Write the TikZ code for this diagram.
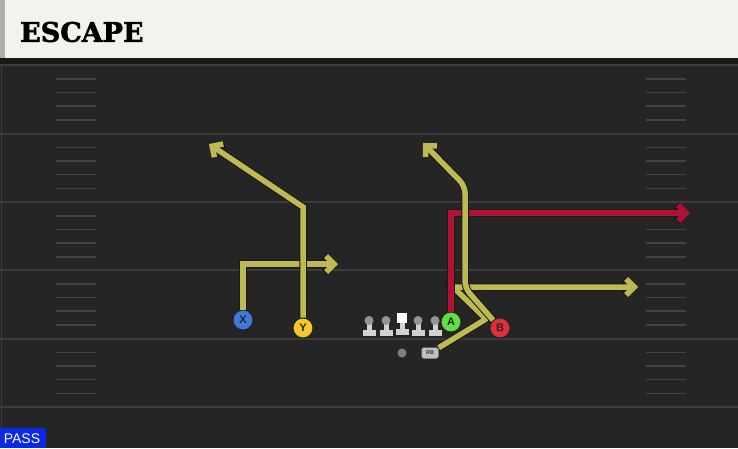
\documentclass[tikz,border=0pt]{standalone}
\usepackage{fontspec}
\usepackage{tikz}
\usetikzlibrary{arrows.meta}
\newfontfamily\titlefont{DejaVu Serif}[BoldFeatures={FakeBold=2}]
\newfontfamily\labelfont{Liberation Sans}

\definecolor{fieldbg}{RGB}{37,37,37}
\definecolor{fieldline}{RGB}{60,60,60}
\definecolor{hashline}{RGB}{66,66,66}
\definecolor{cream}{RGB}{244,242,236}
\definecolor{routeyellow}{RGB}{190,186,82}
\definecolor{routered}{RGB}{176,18,50}
\definecolor{btnx}{RGB}{62,122,220}
\definecolor{btny}{RGB}{246,200,40}
\definecolor{btna}{RGB}{100,222,70}
\definecolor{btnb}{RGB}{226,44,56}
\definecolor{passblue}{RGB}{10,40,230}

\tikzset{
  route/.style={line width=5.5pt, draw=routeyellow, line join=miter,
    -{Straight Barb[length=8pt,width=16pt]},
    preaction={draw=black!90, line width=7.5pt}},
  hot/.style={route, draw=routered},
  player/.style={circle, minimum size=20pt, inner sep=0pt, draw=black!85, line width=1pt,
    font=\labelfont\bfseries\fontsize{11}{11}\selectfont, text=black!85},
}

\begin{document}
\begin{tikzpicture}[x=1pt,y=-1pt]
\useasboundingbox (0,0) rectangle (738,448);
% field
\fill[fieldbg] (0,58) rectangle (738,448);
\fill[black!90] (0,58) rectangle (738,64);
\draw[fieldline, line width=1.5pt] (1.5,64) -- (1.5,448);
\foreach \ly in {65, 133.5, 202, 270, 338.5, 407}{
    \draw[fieldline, line width=2pt] (0,\ly) -- (738,\ly);
}
\foreach \ly in {65, 133.5, 202, 270, 338.5}{
    \foreach \dy in {14, 27.5, 41, 55}{
        \draw[hashline, line width=1.5pt] (56,\ly+\dy) -- (96,\ly+\dy);
        \draw[hashline, line width=1.5pt] (646,\ly+\dy) -- (686,\ly+\dy);
    }
}

% header
\fill[cream] (0,0) rectangle (738,58);
\fill[black!32] (0,0) rectangle (5,58);
\node[anchor=west, inner sep=0pt] (title) at (20,32)
    {\titlefont\bfseries\fontsize{27}{27}\selectfont ESCAPE};

% line
\foreach \lx in {369, 386, 418, 435}{
    \fill[black!18] (\lx-6.5,330) rectangle (\lx+6.5,336);
    \fill[black!18] (\lx-2.5,323) rectangle (\lx+2.5,331);
    \fill[black!42] (\lx,320.5) circle (4.5);
}
\fill[black!18] (395.5,329) rectangle (408.5,335);
\fill[black!18] (399.5,321) rectangle (404.5,330);
\fill[white] (397,312.5) rectangle (407,322.5);

% backfield
\fill[black!50] (402,353) circle (4.5);
\node[rounded corners=2.5pt, fill=black!25, draw=black!60, minimum width=17pt, minimum height=11pt,
    inner sep=0pt, font=\labelfont\bfseries\fontsize{5.5}{5.5}\selectfont, text=black!80] (RB) at (430,353) {RB};

% receivers
\node[player, fill=btnx] (X) at (243,320) {X};
\node[player, fill=btny] (Y) at (303,328) {Y};
\node[player, fill=btna] (A) at (451,322) {A};
\node[player, fill=btnb] (B) at (500,328) {B};

\coordinate (xcut) at (243,264);
\coordinate (xend) at (338,264);
\coordinate (ycut) at (303,207);
\coordinate (yend) at (209,144);
\coordinate (rbcut) at (486,319);
\coordinate (rbflat) at (453,287);
\coordinate (rbend) at (638,287);
\coordinate (acut) at (451,213);
\coordinate (aend) at (690,213);
\coordinate (bcut) at (465,288);
\coordinate (bstem) at (465,186);
\coordinate (bend) at (423,143);

% routes
\draw[route] (X) -- (xcut) -- (xend);
\draw[route] (Y) -- (ycut) -- (yend);
\draw[route, line join=round] (RB) -- (rbcut) -- (rbflat) -- (rbend);
\draw[hot] (A) -- (acut) -- (aend);
\draw[route, rounded corners=7pt] (B) -- (bcut) -- (bstem) -- (bend);

% play type
\fill[passblue] (0,428) rectangle (46,448);
\node[text=white, font=\labelfont\fontsize{14}{14}\selectfont, inner sep=0pt] (pass) at (22,438.5) {PASS};
\end{tikzpicture}
\end{document}
